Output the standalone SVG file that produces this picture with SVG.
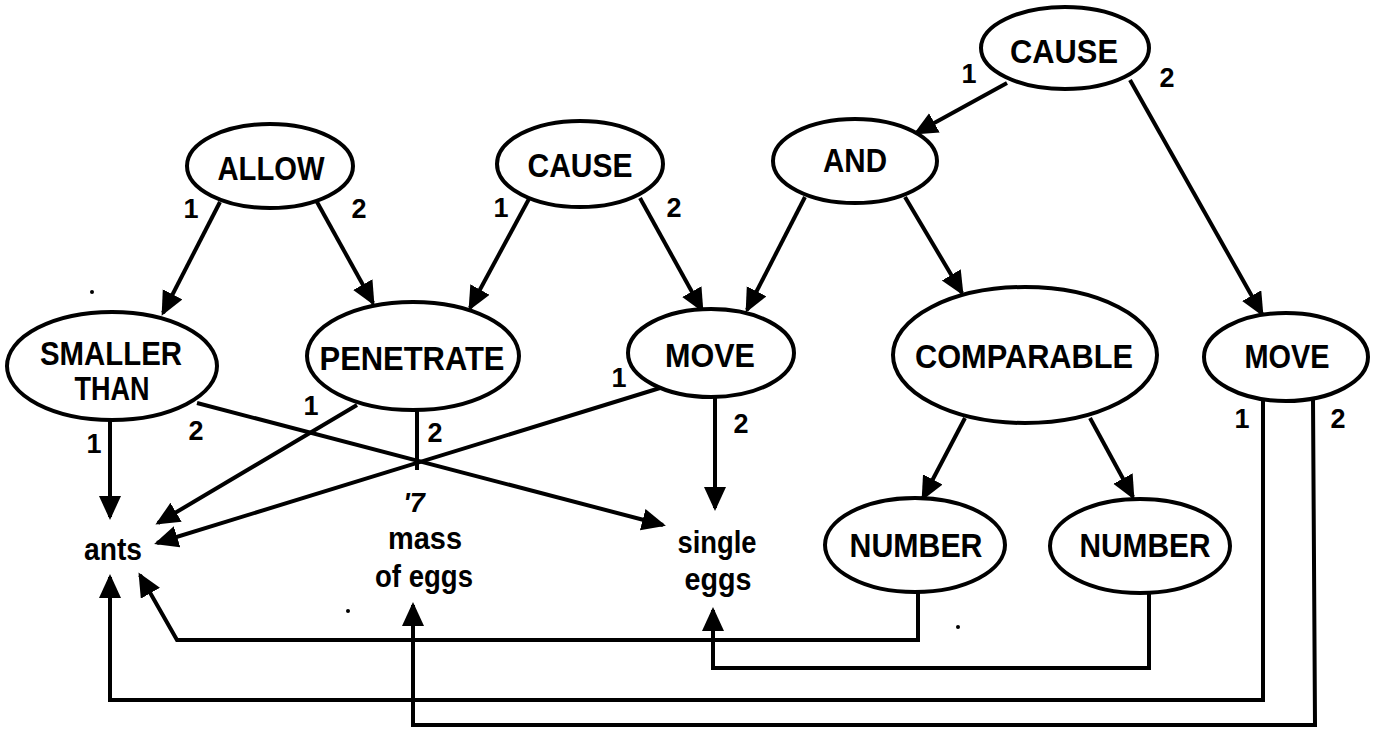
<svg xmlns="http://www.w3.org/2000/svg" width="1379" height="732" viewBox="0 0 1379 732">
<style>
.node ellipse{fill:#fff;stroke:#000;stroke-width:4}
.t{font-family:"Liberation Sans",Arial,sans-serif;font-size:33px;font-weight:bold;text-anchor:middle;fill:#000}
.w{font-family:"Liberation Sans",Arial,sans-serif;font-size:31px;font-weight:bold;text-anchor:middle;fill:#000}
.n{font-family:"Liberation Sans",Arial,sans-serif;font-size:27px;font-weight:bold;text-anchor:middle;fill:#000}
#connectors path,#connectors line{fill:none;stroke:#000;stroke-width:4}
.a{marker-end:url(#arr)}
</style>
<defs>
<marker id="arr" markerUnits="userSpaceOnUse" markerWidth="26" markerHeight="24" refX="21" refY="11" orient="auto">
<path d="M0,0 L24,11 L0,22 z" fill="#000"/>
</marker>
</defs>
<rect width="1379" height="732" fill="#fff"/>
<g id="connectors">
<line class="a" x1="1007" y1="83" x2="916" y2="133"/>
<line class="a" x1="1130" y1="80" x2="1262" y2="314"/>
<line class="a" x1="220" y1="202" x2="163" y2="313"/>
<line class="a" x1="317" y1="202" x2="373" y2="303"/>
<line class="a" x1="530" y1="197" x2="470" y2="308"/>
<line class="a" x1="640" y1="198" x2="702" y2="310"/>
<line class="a" x1="805" y1="197" x2="747" y2="310"/>
<line class="a" x1="905" y1="197" x2="962" y2="293"/>
<line class="a" x1="110" y1="420" x2="110" y2="517"/>
<line class="a" x1="197" y1="403" x2="663" y2="525"/>
<line class="a" x1="357" y1="405" x2="158" y2="523"/>
<line x1="417" y1="410" x2="417" y2="470"/>
<line class="a" x1="660" y1="388" x2="157" y2="543"/>
<line class="a" x1="715" y1="397" x2="715" y2="508"/>
<line class="a" x1="965" y1="418" x2="923" y2="498"/>
<line class="a" x1="1090" y1="418" x2="1133" y2="497"/>
<path class="a" d="M1263,399 L1263,700 L110,700 L110,577"/>
<path class="a" d="M1313,399 L1315,725 L413,725 L413,605"/>
<path class="a" d="M918,592 L918,640 L177,640 L140,575"/>
<path class="a" d="M1149,593 L1149,668 L713,668 L713,610"/>
</g>
<g id="edge-labels">
<text class="n" x="969" y="83">1</text>
<text class="n" x="1167" y="87">2</text>
<text class="n" x="191" y="218">1</text>
<text class="n" x="359" y="218">2</text>
<text class="n" x="501" y="217">1</text>
<text class="n" x="674" y="217">2</text>
<text class="n" x="94" y="453">1</text>
<text class="n" x="196" y="440">2</text>
<text class="n" x="311" y="415">1</text>
<text class="n" x="435" y="442">2</text>
<text class="n" x="619" y="387">1</text>
<text class="n" x="741" y="433">2</text>
<text class="n" x="1242" y="428">1</text>
<text class="n" x="1338" y="428">2</text>
</g>
<g id="cause-top" class="node"><ellipse cx="1065" cy="48" rx="84" ry="41"/><text class="t" x="1064" y="63" textLength="108" lengthAdjust="spacingAndGlyphs">CAUSE</text></g>
<g id="and" class="node"><ellipse cx="855" cy="161" rx="82" ry="42"/><text class="t" x="855" y="172" textLength="64" lengthAdjust="spacingAndGlyphs">AND</text></g>
<g id="allow" class="node"><ellipse cx="270" cy="166" rx="83" ry="42"/><text class="t" x="271" y="180" textLength="107" lengthAdjust="spacingAndGlyphs">ALLOW</text></g>
<g id="cause-mid" class="node"><ellipse cx="580" cy="164" rx="83" ry="43"/><text class="t" x="580" y="177" textLength="105" lengthAdjust="spacingAndGlyphs">CAUSE</text></g>
<g id="smaller-than" class="node"><ellipse cx="112" cy="366" rx="105" ry="54"/><text class="t" x="111" y="365" textLength="142" lengthAdjust="spacingAndGlyphs">SMALLER</text><text class="t" x="112" y="400" textLength="75" lengthAdjust="spacingAndGlyphs">THAN</text></g>
<g id="penetrate" class="node"><ellipse cx="413" cy="356" rx="106" ry="54"/><text class="t" x="412" y="370" textLength="185" lengthAdjust="spacingAndGlyphs">PENETRATE</text></g>
<g id="move-mid" class="node"><ellipse cx="711" cy="353" rx="83" ry="44"/><text class="t" x="710" y="367" textLength="90" lengthAdjust="spacingAndGlyphs">MOVE</text></g>
<g id="comparable" class="node"><ellipse cx="1025" cy="355" rx="132" ry="68"/><text class="t" x="1024" y="368" textLength="218" lengthAdjust="spacingAndGlyphs">COMPARABLE</text></g>
<g id="move-right" class="node"><ellipse cx="1286" cy="357" rx="82" ry="44"/><text class="t" x="1287" y="368" textLength="85" lengthAdjust="spacingAndGlyphs">MOVE</text></g>
<g id="number-1" class="node"><ellipse cx="915" cy="545" rx="90" ry="47"/><text class="t" x="916" y="557" textLength="133" lengthAdjust="spacingAndGlyphs">NUMBER</text></g>
<g id="number-2" class="node"><ellipse cx="1140" cy="546" rx="90" ry="47"/><text class="t" x="1145" y="557" textLength="131" lengthAdjust="spacingAndGlyphs">NUMBER</text></g>
<g id="ants"><text class="w" x="113" y="560" textLength="58" lengthAdjust="spacingAndGlyphs">ants</text></g>
<g id="mass-of-eggs"><text class="n" x="414" y="512" font-style="italic">'7</text><text class="w" x="425" y="549" textLength="74" lengthAdjust="spacingAndGlyphs">mass</text><text class="w" x="424" y="587" textLength="98" lengthAdjust="spacingAndGlyphs">of eggs</text></g>
<g id="single-eggs"><text class="w" x="717" y="553" textLength="79" lengthAdjust="spacingAndGlyphs">single</text><text class="w" x="718" y="590" textLength="67" lengthAdjust="spacingAndGlyphs">eggs</text></g>
<g id="specks" fill="#000"><circle cx="92" cy="292" r="2"/><circle cx="348" cy="611" r="2"/><circle cx="958" cy="627" r="2"/></g>
</svg>
